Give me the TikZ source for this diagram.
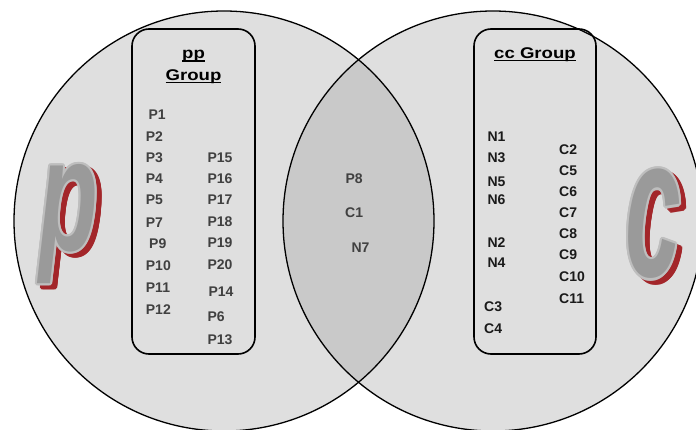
\documentclass[tikz,border=0pt]{standalone}
\usepackage{fontspec}
\setmainfont{Liberation Sans}
\usepackage{xcolor}
\usetikzlibrary{calc}
\definecolor{setfill}{HTML}{DFDFDF}
\definecolor{overlap}{HTML}{C9C9C9}
\definecolor{ptext}{HTML}{404040}
\definecolor{ctext}{HTML}{1A1A1A}
\definecolor{letterfill}{HTML}{9A9A9A}
\definecolor{letteredge}{HTML}{BEBEBE}
\definecolor{shadowred}{HTML}{A3262A}
% underline at a fixed offset, through the descenders
\newcommand\ulword[1]{\setbox0\hbox{#1}\rlap{\rule[-3pt]{\wd0}{1.4pt}}\box0}
\tikzset{
  setline/.style={draw=black, line width=1.3pt},
  grpbox/.style={draw=black, line width=1.6pt, rounded corners=17pt, inner sep=0pt},
  hdr/.style={anchor=base, inner sep=0pt, font=\fontsize{15.5}{18}\selectfont\bfseries},
  item/.style={anchor=base west, inner sep=0pt, font=\fontsize{14}{16}\selectfont\bfseries},
  pitem/.style={item, text=ptext},
  citem/.style={item, text=ctext},
  glyph/.style={inner sep=0pt, font=\fontsize{#1}{#1}\selectfont\bfseries\itshape}
}
% outlined letter with a red drop shadow
\newcommand\bigletter[4]{%
  \foreach \a in {0,30,...,330}
    \node[glyph=#3, text=shadowred] at ($(#2)+(5,4)+(\a:2.2)$) {#4};
  \foreach \a in {0,30,...,330}
    \node[glyph=#3, text=letteredge] at ($(#2)+(\a:2.2)$) {#4};
  \node[glyph=#3, text=letterfill] (#1) at (#2) {#4};
}

\begin{document}
\begin{tikzpicture}[x=1pt, y=-1pt]
\useasboundingbox (0,0) rectangle (696,430);
\clip (0,0) rectangle (696,430);

% the two sets
\coordinate (pc) at (224,221);
\coordinate (cc) at (493,221);
\fill[setfill] (pc) circle[radius=210pt];
\fill[setfill] (cc) circle[radius=210pt];
\begin{scope}
  \clip (pc) circle[radius=210pt];
  \fill[overlap] (cc) circle[radius=210pt];
\end{scope}
\draw[setline] (pc) circle[radius=210pt];
\draw[setline] (cc) circle[radius=210pt];

% group boxes
\node[grpbox, minimum width=123pt, minimum height=325pt] (ppbox) at (193.5,191.5) {};
\node[grpbox, minimum width=122pt, minimum height=325pt] (ccbox) at (535,191.5) {};

\node[hdr] (pphdr) at (193.5,58.7) {\scalebox{1.2}[1]{\ulword{pp}}};
\node[hdr] (ppgrp) at (193.5,80.5) {\scalebox{1.2}[1]{\ulword{Group}}};
\node[hdr] (cchdr) at (535,58.3) {\scalebox{1.2}[1]{\ulword{cc Group}}};

% pp group
\node[pitem] (p1)  at (148.3,119.5) {P1};
\node[pitem] (p2)  at (145.7,141.5) {P2};
\node[pitem] (p3)  at (145.7,162.5) {P3};
\node[pitem] (p4)  at (145.7,184) {P4};
\node[pitem] (p5)  at (145.7,205) {P5};
\node[pitem] (p7)  at (145.7,228) {P7};
\node[pitem] (p9)  at (149,249) {P9};
\node[pitem] (p10) at (145.7,270.5) {P10};
\node[pitem] (p11) at (145.7,293) {P11};
\node[pitem] (p12) at (145.7,314.5) {P12};
\node[pitem] (p15) at (207.3,162.5) {P15};
\node[pitem] (p16) at (207.3,184) {P16};
\node[pitem] (p17) at (207.3,205) {P17};
\node[pitem] (p18) at (207.3,226.7) {P18};
\node[pitem] (p19) at (207.3,247.7) {P19};
\node[pitem] (p20) at (207.3,270) {P20};
\node[pitem] (p14) at (208.3,296.7) {P14};
\node[pitem] (p6)  at (207.3,321.7) {P6};
\node[pitem] (p13) at (207.3,344.3) {P13};

% shared
\node[pitem] (p8) at (345.3,184) {P8};
\node[pitem] (c1) at (345,217.3) {C1};
\node[pitem] (n7) at (351.3,252.7) {N7};

% cc group
\node[citem] (n1)  at (487.3,141.7) {N1};
\node[citem] (n3)  at (487.3,162.7) {N3};
\node[citem] (n5)  at (487.3,186.7) {N5};
\node[citem] (n6)  at (487.3,205) {N6};
\node[citem] (n2)  at (487.3,247.7) {N2};
\node[citem] (n4)  at (487.3,267.7) {N4};
\node[citem] (c3)  at (484,311.7) {C3};
\node[citem] (c4)  at (484,333.3) {C4};
\node[citem] (c2)  at (559,154.3) {C2};
\node[citem] (c5)  at (559,175.7) {C5};
\node[citem] (c6)  at (559,196.7) {C6};
\node[citem] (c7)  at (559,217.7) {C7};
\node[citem] (c8)  at (559,239) {C8};
\node[citem] (c9)  at (559,260) {C9};
\node[citem] (c10) at (559,281.7) {C10};
\node[citem] (c11) at (559,303.3) {C11};

% set letters
\coordinate (pmark) at (69,224);
\coordinate (cmark) at (653,224);
\bigletter{bigp}{pmark}{160}{\scalebox{0.6}[1]{p}}
\bigletter{bigc}{cmark}{200}{\scalebox{0.5}[1]{c}}
\end{tikzpicture}
\end{document}
